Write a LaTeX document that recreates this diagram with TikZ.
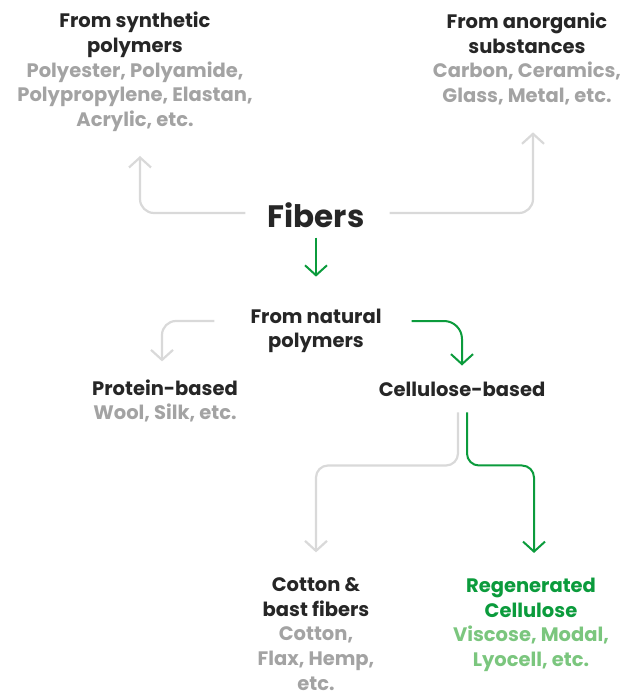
\documentclass[tikz,border=0pt]{standalone}
\usepackage{fontspec}
\setmainfont{Poppins}
\usetikzlibrary{arrows.meta,calc}
\definecolor{dark}{HTML}{262626}
\definecolor{greytext}{HTML}{A3A3A3}
\definecolor{greyline}{HTML}{D9D9D9}
\definecolor{green}{HTML}{0B9B3C}
\definecolor{lightgreen}{HTML}{7BC67E}
\tikzset{
  lbl/.style={font=\bfseries\fontsize{19.5}{24.7}\selectfont, text=dark, align=center, inner sep=0pt},
  gline/.style={draw=greyline, line width=2.2pt, rounded corners=14pt, -{Straight Barb[length=10pt,width=22pt]}},
  grline/.style={draw=green, line width=2pt, rounded corners=16pt, -{Straight Barb[length=10pt,width=22pt]}},
}
\newcommand{\gtx}[1]{\textcolor{greytext}{#1}}
\newcommand{\lgx}[1]{\textcolor{lightgreen}{#1}}
\begin{document}
\begin{tikzpicture}[x=1pt,y=-1pt]
\useasboundingbox (0,0) rectangle (640,693);
\node[lbl] (syn) at (135,72) {From synthetic\\polymers\\\gtx{Polyester, Polyamide,}\\\gtx{Polypropylene, Elastan,}\\\gtx{Acrylic, etc.}};
\node[lbl] (ano) at (527,59) {From anorganic\\substances\\\gtx{Carbon, Ceramics,}\\\gtx{Glass, Metal, etc.}};
\node[lbl, font=\bfseries\fontsize{31}{34}\selectfont] (fib) at (316,215) {Fibers};
\node[lbl] (nat) at (316,331) {From natural\\polymers};
\node[lbl] (pro) at (165,401) {Protein-based\\\gtx{Wool, Silk, etc.}};
\node[lbl] (cel) at (462,389) {Cellulose-based};
\node[lbl] (cot) at (316,634) {Cotton \&\\bast fibers\\\gtx{Cotton,}\\\gtx{Flax, Hemp,}\\\gtx{etc.}};
\node[lbl, text=green] (reg) at (531,625) {Regenerated\\Cellulose\\\lgx{Viscose, Modal,}\\\lgx{Lyocell, etc.}};

\draw[gline, shorten >=24pt] ([xshift=-22pt,yshift=2pt]fib.west) -| ([xshift=5pt]syn.south);
\draw[gline, shorten >=27pt] ([xshift=25pt,yshift=2pt]fib.east) -| ([xshift=6pt]ano.south);
\draw[grline, shorten >=32pt] ([yshift=-10pt]fib.south) -- (nat.north);
\draw[gline, shorten >=18pt] ([xshift=-36pt,yshift=10pt]nat.west) -| ([xshift=-3pt]pro.north);
\draw[grline, rounded corners=18pt, shorten >=16pt] ([xshift=30pt,yshift=10pt]nat.east) -| (cel.north);
\draw[gline, rounded corners=12pt, shorten >=25pt] ([xshift=-4pt,yshift=-16pt]cel.south) -- ++(0,53) -| (cot.north);
\draw[grline, rounded corners=12pt, shorten >=25pt] ([xshift=5pt,yshift=-16pt]cel.south) -- ++(0,53) -| ([xshift=3pt]reg.north);
\end{tikzpicture}
\end{document}
